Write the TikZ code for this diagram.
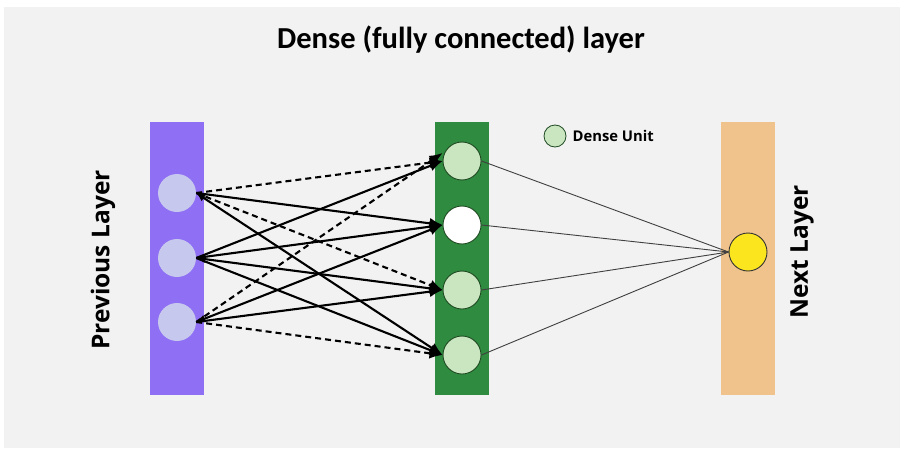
\documentclass[tikz,border=0pt]{standalone}
\usepackage{fontspec}
\setmainfont{Open Sans}
\newfontfamily\titlefont{Carlito}
\usetikzlibrary{arrows.meta}
\definecolor{bggray}{HTML}{F2F2F2}
\definecolor{prevbar}{HTML}{8F6FF3}
\definecolor{prevnode}{HTML}{C6C8EE}
\definecolor{densebar}{HTML}{2E8B3F}
\definecolor{densenode}{HTML}{C9E6C1}
\definecolor{densebord}{HTML}{1F4A22}
\definecolor{nextbar}{HTML}{F0C38C}
\definecolor{nextnode}{HTML}{FBE51E}
\tikzset{
  layerbar/.style={inner sep=0pt, minimum width=54pt, minimum height=273pt},
  prevunit/.style={circle, fill=prevnode, inner sep=0pt, minimum size=38pt},
  denseunit/.style={circle, draw=densebord, line width=0.9pt, fill=densenode, inner sep=0pt, minimum size=38pt},
  outunit/.style={circle, draw=black!80, line width=0.9pt, fill=nextnode, inner sep=0pt, minimum size=38pt},
  solidarrow/.style={line width=2.1pt, -{Latex[length=13pt,width=11pt]}},
  dasharrow/.style={line width=2.1pt, dash pattern=on 6pt off 4pt, -{Latex[length=13pt,width=11pt]}},
  bothsolid/.style={line width=2.1pt, {Latex[length=9pt,width=8pt]}-{Latex[length=13pt,width=11pt]}},
  outline/.style={line width=0.9pt, draw=black!75},
  sidelabel/.style={rotate=90, font=\fontsize{24.5}{28}\selectfont\bfseries},
}
\begin{document}
\begin{tikzpicture}[x=1pt,y=-1pt]
\useasboundingbox (0,0) rectangle (904,452);
\fill[white] (0,0) rectangle (904,452);
\fill[bggray] (4,7) rectangle (900,448);

\node[font=\titlefont\fontsize{30.5}{36}\selectfont\bfseries] (title) at (461,40) {Dense (fully connected) layer};

\node[layerbar, fill=prevbar] (prevbar) at (177,258.5) {};
\node[layerbar, fill=densebar] (densebar) at (462,258.5) {};
\node[layerbar, fill=nextbar] (nextbar) at (748,258.5) {};

\node[sidelabel] (prevlabel) at (103,260) {Previous Layer};
\node[sidelabel] (nextlabel) at (802,252) {Next Layer};

\node[prevunit] (L1) at (177,193) {};
\node[prevunit] (L2) at (177,258) {};
\node[prevunit] (L3) at (177,322) {};

\node[denseunit] (G1) at (462,161) {};
\node[denseunit, fill=white] (G2) at (462,225) {};
\node[denseunit] (G3) at (462,290) {};
\node[denseunit] (G4) at (462,355) {};

\node[outunit] (Y) at (748,252) {};

\node[denseunit, minimum size=22pt, line width=0.8pt] (legendunit) at (555,136) {};
\node[anchor=west, font=\fontsize{14.8}{18}\selectfont\bfseries, inner sep=0pt] (legendtext) at ([xshift=6pt]legendunit.east) {Dense Unit};

% green -> yellow
\foreach \g in {G1,G2,G3,G4}{
  \draw[outline] (\g.east) -- (Y.west);
}

% previous -> dense
\draw[dasharrow] (L1.east) -- (G1.west);
\draw[solidarrow] (L1.east) -- (G2.west);
\draw[dasharrow] (L1.east) -- (G3.west);
\draw[bothsolid] (L1.east) -- (G4.west);

\draw[solidarrow] (L2.east) -- (G1.west);
\draw[solidarrow] (L2.east) -- (G2.west);
\draw[bothsolid] (L2.east) -- (G3.west);
\draw[solidarrow] (L2.east) -- (G4.west);

\draw[dasharrow] (L3.east) -- ([yshift=8pt]G1.west);
\draw[bothsolid] (L3.east) -- (G2.west);
\draw[solidarrow] (L3.east) -- (G3.west);
\draw[dasharrow] (L3.east) -- (G4.west);
\end{tikzpicture}
\end{document}
